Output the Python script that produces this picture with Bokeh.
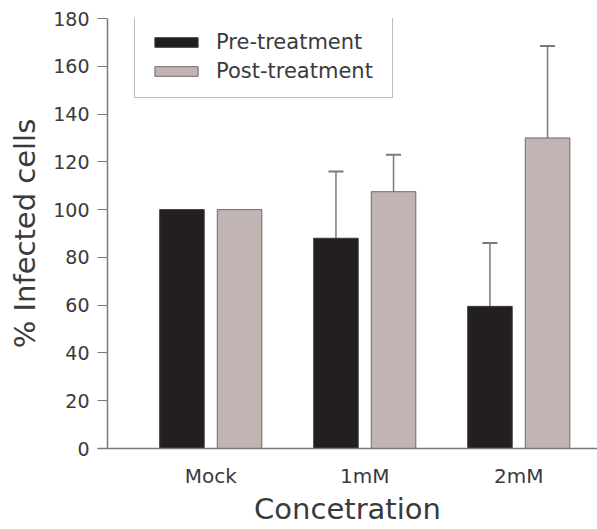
import numpy as np
from bokeh.plotting import figure
from bokeh.models import (ColumnDataSource, FixedTicker, Legend, LegendItem,
                          Whisker, TeeHead, Span, Range1d)
from bokeh.embed import file_html
from bokeh.resources import INLINE

categories = ["Mock", "1mM", "2mM"]
pre_values = [100, 88, 59.5]
pre_errors = [0, 28, 26.5]
post_values = [100, 107.5, 130]
post_errors = [0, 15.5, 38.5]
series_names = ["Pre-treatment", "Post-treatment"]
y_ticks = [0, 20, 40, 60, 80, 100, 120, 140, 160, 180]

FONT = "DejaVu Sans"
TXT = "#3a3a3a"
AX = "#7a7a7a"
PRE_COLOR = "#231f20"
POST_COLOR = "#c0b5b2"

PX = 154.0
x_start = 0.2646
x_end = x_start + 500 / PX
p = figure(width=597, height=529, output_backend="svg", toolbar_location=None,
           x_range=Range1d(x_start, x_end), y_range=Range1d(0, 180),
           min_border_left=97, min_border_right=0, min_border_top=18,
           min_border_bottom=81)
p.outline_line_color = None
p.xgrid.visible = False
p.ygrid.visible = False
p.background_fill_color = "white"
p.border_fill_color = "white"

xc = np.arange(1, len(categories) + 1, dtype=float)
off = 0.187
w = 0.289

pre_src = ColumnDataSource(dict(x=xc - off, top=pre_values))
post_src = ColumnDataSource(dict(x=xc + off, top=post_values))
r_pre = p.vbar(x="x", top="top", width=w, source=pre_src, fill_color=PRE_COLOR,
               line_color="#3a3a3a", line_width=1)
r_post = p.vbar(x="x", top="top", width=w, source=post_src, fill_color=POST_COLOR,
                line_color="#6e6866", line_width=1)

def whisk(xs, vals, errs):
    xs2 = [x for x, e in zip(xs, errs) if e > 0]
    lo = [v for v, e in zip(vals, errs) if e > 0]
    up = [v + e for v, e in zip(vals, errs) if e > 0]
    src = ColumnDataSource(dict(base=xs2, lower=lo, upper=up))
    wk = Whisker(base="base", lower="lower", upper="upper", source=src,
                 line_color="#7a7a7a", line_width=1.5,
                 upper_head=TeeHead(size=15, line_color="#7a7a7a", line_width=2),
                 lower_head=None, level="underlay")
    p.add_layout(wk)

whisk(list(xc - off), pre_values, pre_errors)
whisk(list(xc + off), post_values, post_errors)

yline_x = x_start + 10 / PX
p.add_layout(Span(location=yline_x, dimension="height", line_color=AX, line_width=1.5))

p.xaxis.ticker = FixedTicker(ticks=list(xc))
p.xaxis.major_label_overrides = {i + 1: c for i, c in enumerate(categories)}
p.xaxis.major_tick_line_color = None
p.xaxis.minor_tick_line_color = None
p.xaxis.axis_line_color = AX
p.xaxis.axis_line_width = 1.5
p.xaxis.major_label_standoff = 9
p.xaxis.axis_label = "Concetration"
p.xaxis.axis_label_standoff = 1

p.yaxis.ticker = FixedTicker(ticks=y_ticks)
p.yaxis.axis_line_color = None
p.yaxis.major_tick_in = 10
p.yaxis.major_tick_out = 0
p.yaxis.major_tick_line_color = AX
p.yaxis.minor_tick_line_color = None
p.yaxis.major_label_standoff = 8
p.yaxis.axis_label = "% Infected cells"
p.yaxis.axis_label_standoff = 8

for ax in (p.xaxis[0], p.yaxis[0]):
    ax.major_label_text_font = FONT
    ax.major_label_text_color = TXT
    ax.axis_label_text_font = FONT
    ax.axis_label_text_font_size = "29px"
    ax.axis_label_text_font_style = "normal"
    ax.axis_label_text_color = TXT
p.xaxis.major_label_text_font_size = "20px"
p.yaxis.major_label_text_font_size = "19px"

legend = Legend(items=[LegendItem(label=series_names[0], renderers=[r_pre]),
                       LegendItem(label=series_names[1], renderers=[r_post])],
                location=(37, 350), orientation="vertical")
legend.glyph_width = 54
legend.glyph_height = 12
legend.label_height = 25
legend.label_width = 162
legend.spacing = 4
legend.padding = 14
legend.margin = 0
legend.label_standoff = 13
legend.label_text_font = FONT
legend.label_text_font_size = "21px"
legend.label_text_color = TXT
legend.border_line_color = "#7a7a7a"
legend.border_line_width = 1.5
legend.background_fill_color = "white"
legend.background_fill_alpha = 1
p.add_layout(legend, "center")

open("out.html", "w").write(file_html(p, INLINE))
